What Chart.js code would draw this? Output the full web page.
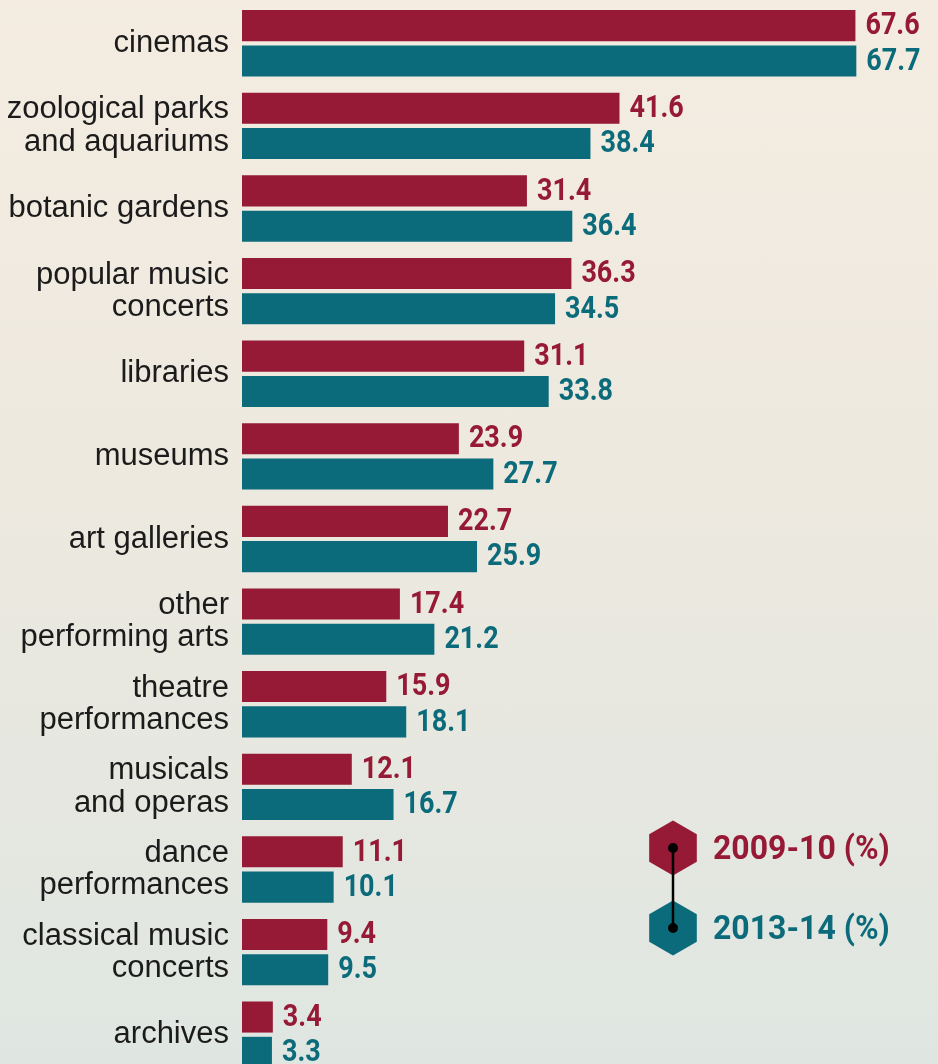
<!DOCTYPE html>
<html>
<head>
<meta charset="utf-8">
<script src="https://cdn.jsdelivr.net/npm/chart.js@4"></script>
<style>
  html, body { margin: 0; padding: 0; }
  body {
    width: 938px; height: 1064px; overflow: hidden;
    background: linear-gradient(180deg, #f4ece1 0%, #ede9df 45%, #dfe6e1 100%);
  }
  canvas { display: block; }
</style>
</head>
<body>
<canvas id="chart" width="938" height="1080"></canvas>
<script>
// attendance at cultural venues, % of people
const categories = [
  'cinemas',
  ['zoological parks', 'and aquariums'],
  'botanic gardens',
  ['popular music', 'concerts'],
  'libraries',
  'museums',
  'art galleries',
  ['other', 'performing arts'],
  ['theatre', 'performances'],
  ['musicals', 'and operas'],
  ['dance', 'performances'],
  ['classical music', 'concerts'],
  'archives'
]
const values0910 = [67.6, 41.6, 31.4, 36.3, 31.1, 23.9, 22.7, 17.4, 15.9, 12.1, 11.1, 9.4, 3.4]
const values1314 = [67.7, 38.4, 36.4, 34.5, 33.8, 27.7, 25.9, 21.2, 18.1, 16.7, 10.1, 9.5, 3.3]
const seriesNames = ['2009-10 (%)', '2013-14 (%)']

const RED = '#961a35'
const TEAL = '#0c6b7a'
const BOLD_FONT = "Roboto, 'Liberation Sans', sans-serif"

// bold text squeezed horizontally to mimic a condensed face
function condensedText(ctx, text, x, y, squeeze) {
  ctx.save()
  ctx.translate(x, y)
  ctx.scale(squeeze, 1)
  ctx.fillText(text, 0, 0)
  ctx.restore()
}

// value labels at the end of each bar
const valueLabels = {
  id: 'valueLabels',
  afterDatasetsDraw(chart) {
    const ctx = chart.ctx
    ctx.save()
    ctx.font = 'bold 31px ' + BOLD_FONT
    ctx.textAlign = 'left'
    ctx.textBaseline = 'middle'
    chart.data.datasets.forEach((ds, i) => {
      const meta = chart.getDatasetMeta(i)
      ctx.fillStyle = ds.backgroundColor
      meta.data.forEach((bar, j) => {
        condensedText(ctx, ds.data[j].toFixed(1), bar.x + 10, bar.y + 1, 0.87)
      })
    })
    ctx.restore()
  }
}

// hexagon legend joined by a line
const hexLegend = {
  id: 'hexLegend',
  afterDraw(chart) {
    const ctx = chart.ctx
    const cx = 673
    const rows = [848, 928]
    const colors = [RED, TEAL]
    const r = 27.5
    ctx.save()
    rows.forEach((cy, i) => {
      ctx.beginPath()
      for (let k = 0; k < 6; k++) {
        const a = Math.PI / 2 + k * Math.PI / 3
        const px = cx + r * Math.cos(a)
        const py = cy - r * Math.sin(a)
        k === 0 ? ctx.moveTo(px, py) : ctx.lineTo(px, py)
      }
      ctx.closePath()
      ctx.fillStyle = colors[i]
      ctx.fill()
    })
    ctx.strokeStyle = '#000'
    ctx.lineWidth = 2.5
    ctx.beginPath()
    ctx.moveTo(cx, rows[0])
    ctx.lineTo(cx, rows[1])
    ctx.stroke()
    ctx.fillStyle = '#000'
    rows.forEach(cy => {
      ctx.beginPath()
      ctx.arc(cx, cy, 5, 0, Math.PI * 2)
      ctx.fill()
    })
    ctx.font = 'bold 33px ' + BOLD_FONT
    ctx.textAlign = 'left'
    ctx.textBaseline = 'middle'
    rows.forEach((cy, i) => {
      ctx.fillStyle = colors[i]
      condensedText(ctx, seriesNames[i], 713, cy + 3, 0.97)
    })
    ctx.restore()
  }
}

new Chart(document.getElementById('chart'), {
  type: 'bar',
  data: {
    labels: categories,
    datasets: [
      { label: seriesNames[0], data: values0910, backgroundColor: RED },
      { label: seriesNames[1], data: values1314, backgroundColor: TEAL }
    ]
  },
  options: {
    indexAxis: 'y',
    responsive: false,
    animation: false,
    devicePixelRatio: 1,
    categoryPercentage: 0.855,
    barPercentage: 0.88,
    layout: { padding: { top: 2, bottom: 4, left: 0, right: 0 } },
    scales: {
      x: { display: false, min: 0, max: 76.7 },
      y: {
        afterFit: (scale) => {
          scale.width = 242
          scale.paddingTop = 0
          scale.paddingBottom = 0
        },
        grid: { display: false, drawTicks: false },
        border: { display: false },
        ticks: {
          padding: 13,
          color: '#1b1b1b',
          font: { family: "'Liberation Sans', Arial, sans-serif", size: 31, lineHeight: 1.04 }
        }
      }
    },
    plugins: {
      legend: { display: false },
      tooltip: { enabled: false }
    }
  },
  plugins: [valueLabels, hexLegend]
})
</script>
</body>
</html>
